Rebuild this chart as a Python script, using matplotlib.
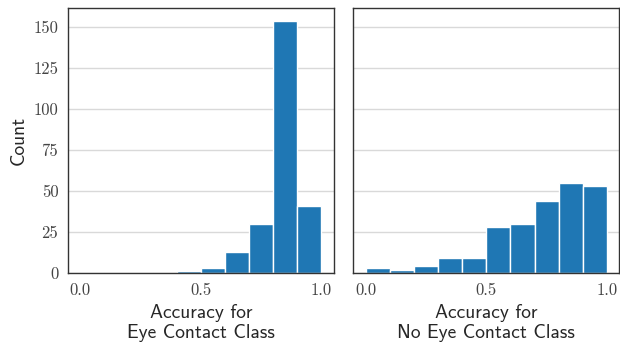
import matplotlib
matplotlib.use("Agg")
import matplotlib.pyplot as plt
import numpy as np

# histogram bins and counts
bin_edges = [0.0, 0.1, 0.2, 0.3, 0.4, 0.5, 0.6, 0.7, 0.8, 0.9, 1.0]
eye_contact_counts = [0, 0, 0, 0, 1, 3, 13, 30, 154, 41]
no_eye_contact_counts = [3, 2, 4, 9, 9, 28, 30, 44, 55, 53]
xlabels = ["Accuracy for\nEye Contact Class", "Accuracy for\nNo Eye Contact Class"]
yticks = [0, 25, 50, 75, 100, 125, 150]
xticks = [0.0, 0.5, 1.0]

plt.rcParams["font.family"] = "cmss10"
plt.rcParams["axes.unicode_minus"] = False

fig, axes = plt.subplots(1, 2, figsize=(6.2, 3.45), dpi=100, sharey=True)
fig.subplots_adjust(left=0.1097, right=0.9984, bottom=0.2087, top=0.9768, wspace=0.075)

edges = np.array(bin_edges)
for ax, counts, label in zip(axes, [eye_contact_counts, no_eye_contact_counts], xlabels):
    ax.hist(edges[:-1], bins=edges, weights=counts, color="#1f77b4",
            edgecolor="white", linewidth=1, zorder=2)
    ax.set_axisbelow(True)
    ax.yaxis.grid(True, color="#d9d9d9", linewidth=1)
    ax.xaxis.grid(False)
    for s in ax.spines.values():
        s.set_color("#333333")
        s.set_linewidth(1.0)
    ax.set_xticks(xticks)
    ax.set_xticklabels([f"{t:.1f}" for t in xticks], fontfamily="cmr10",
                       fontsize=12, color="#444444")
    ax.tick_params(length=0, pad=7)
    ax.set_xlabel(label, fontsize=14, color="#262626", labelpad=4)

axes[0].set_yticks(yticks)
axes[0].set_yticklabels([str(t) for t in yticks], fontfamily="cmr10",
                        fontsize=12, color="#444444")
axes[0].set_ylabel("Count", fontsize=14, color="#262626")
axes[1].tick_params(axis="y", labelleft=False)

fig.savefig("out.png", dpi=100)
